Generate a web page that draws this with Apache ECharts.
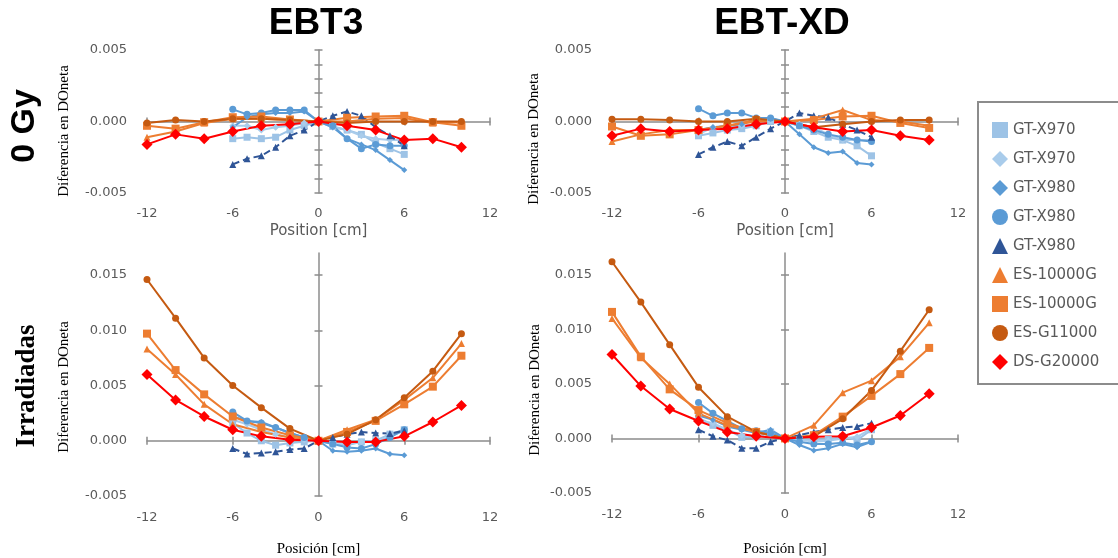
<!DOCTYPE html>
<html>
<head>
<meta charset="utf-8">
<title>Diferencia en DOneta</title>
<script src="https://cdn.jsdelivr.net/npm/echarts@6/dist/echarts.min.js"></script>
<style>html,body{margin:0;padding:0;background:#fff}</style>
</head>
<body>
<div id="main" style="width:1118px;height:558px;"></div>
<script>
// posiciones (cm)
var posGT = [-6, -5, -4, -3, -2, -1, 0, 1, 2, 3, 4, 5, 6];
var posES = [-12, -10, -8, -6, -4, -2, 0, 2, 4, 6, 8, 10];

// EBT3 - 0 Gy
var ebt3_0_gt970sq = [-0.0012, -0.0011, -0.0012, -0.0011, -0.0006, -0.0003, 0, -0.00035, -0.0006, -0.0009, -0.0015, -0.0019, -0.0023];
var ebt3_0_gt970di = [-0.0003, -0.0003, -0.0006, -0.0004, -0.0003, -0.0001, 0, -0.0004, -0.0006, -0.001, -0.0012, -0.0013, -0.0013];
var ebt3_0_gt980di = [-0.0004, 0.0003, 0.0005, 0.0006, 0.0006, 0.0007, 0, -0.0004, -0.0012, -0.0016, -0.002, -0.0027, -0.0034];
var ebt3_0_gt980ci = [0.00085, 0.0005, 0.0006, 0.0008, 0.0008, 0.0008, 0, -0.0003, -0.0012, -0.0019, -0.0016, -0.0017, -0.0017];
var ebt3_0_gt980tr = [-0.003, -0.0026, -0.0024, -0.0018, -0.001, -0.0006, 0, 0.0004, 0.0007, 0.0004, -0.0004, -0.001, -0.0017];
var ebt3_0_es10tr = [-0.0011, -0.0007, -0.0001, 0.0002, 0.0002, 0.0001, 0, 0, 0.0002, 0.00025, -0.0001, -0.00005];
var ebt3_0_es10sq = [-0.0003, -0.0005, -0.00005, 0.0003, 0.00035, 0.00014, 0, 0.00026, 0.00035, 0.0004, -0.00005, -0.0003];
var ebt3_0_esg11 = [-0.0001, 0.0001, 0, 0.0002, 0.0002, 0.0001, 0, -0.0001, 0, 0, 0, 0];
var ebt3_0_dsg20 = [-0.0016, -0.0009, -0.0012, -0.0007, -0.0003, -0.0002, 0, -0.0003, -0.0006, -0.0013, -0.0012, -0.0018];

// EBT-XD - 0 Gy
var xd_0_gt970sq = [-0.001, -0.0008, -0.0006, -0.0005, -0.0003, 0, 0, -0.0003, -0.0007, -0.0011, -0.0013, -0.0017, -0.0024];
var xd_0_gt970di = [-0.0009, -0.0004, -0.0004, -0.0003, -0.0002, 0, 0, -0.0002, -0.0004, -0.0009, -0.0013, -0.0013, -0.0013];
var xd_0_gt980di = [-0.0006, -0.0004, -0.0003, -0.0002, 0.0002, 0.0002, 0, -0.0009, -0.0018, -0.0022, -0.0021, -0.0029, -0.003];
var xd_0_gt980ci = [0.0009, 0.0004, 0.0006, 0.0006, 0.00025, 0.00025, 0, -0.0003, -0.0006, -0.0009, -0.0011, -0.0013, -0.0014];
var xd_0_gt980tr = [-0.0023, -0.0018, -0.0014, -0.0017, -0.0011, -0.0005, 0, 0.0006, 0.0004, 0.0003, -0.0002, -0.0006, -0.0011];
var xd_0_es10tr = [-0.0014, -0.0009, -0.0006, -0.0006, -0.0003, 0, 0, 0.0002, 0.0008, 0.0001, 0, -0.0003];
var xd_0_es10sq = [-0.00035, -0.001, -0.0009, -0.0006, -0.0003, 0.0001, 0, 0.0001, 0.00035, 0.0004, -0.0001, -0.00045];
var xd_0_esg11 = [0.00015, 0.00015, 0.0001, 0, 0, 0.0002, 0, -0.0004, -0.0002, 0, 0.0001, 0.0001];
var xd_0_dsg20 = [-0.001, -0.0005, -0.0007, -0.0006, -0.0005, -0.0002, 0, -0.0004, -0.0007, -0.0006, -0.001, -0.0013];

// EBT3 - Irradiadas
var ebt3_i_gt970sq = [0.0016, 0.0007, 0, -0.0004, -0.0002, -0.0001, 0, -0.0003, -0.0004, -0.0001, 0, 0.0006, 0.001];
var ebt3_i_gt970di = [0.0019, 0.0015, 0.001, 0.0006, 0.0003, 0.0001, 0, -0.0001, -0.0003, -0.0001, -0.0001, 0.0004, 0.0009];
var ebt3_i_gt980di = [0.0022, 0.0018, 0.0017, 0.0012, 0.0007, 0.0003, 0, -0.0009, -0.001, -0.0009, -0.0007, -0.0012, -0.0013];
var ebt3_i_gt980ci = [0.0026, 0.0018, 0.0016, 0.0012, 0.0007, 0.0003, 0, -0.0003, -0.0006, -0.0007, -0.0003, 0.0003, 0.001];
var ebt3_i_gt980tr = [-0.0007, -0.0012, -0.0011, -0.001, -0.0008, -0.0007, 0, 0.0003, 0.0006, 0.0008, 0.0007, 0.00065, 0.0009];
var ebt3_i_es10tr = [0.0083, 0.006, 0.0033, 0.0015, 0.0008, 0.0003, 0, 0.001, 0.0019, 0.0037, 0.0057, 0.0088];
var ebt3_i_es10sq = [0.0097, 0.0064, 0.0042, 0.0022, 0.0012, 0.0005, 0, 0.0008, 0.0018, 0.0033, 0.0049, 0.0077];
var ebt3_i_esg11 = [0.0146, 0.0111, 0.0075, 0.005, 0.003, 0.0011, 0, 0.0006, 0.0019, 0.0039, 0.0063, 0.0097];
var ebt3_i_dsg20 = [0.006, 0.0037, 0.0022, 0.001, 0.0004, 0.0001, 0, -0.0001, -0.0001, 0.0004, 0.0017, 0.0032];

// EBT-XD - Irradiadas
var xd_i_gt970sq = [0.0019, 0.0012, 0.0008, 0.0001, 0.00015, 0.0006, 0, -0.00015, -0.00015, -0.0001, 0.00015, -0.00015, 0.0008];
var xd_i_gt970di = [0.0017, 0.0014, 0.0008, 0.0003, 0.00015, 0.0005, 0, -0.0001, -0.0003, -0.0002, 0, 0.00015, 0.0009];
var xd_i_gt980di = [0.0021, 0.0017, 0.0011, 0.0008, 0.0005, 0.0008, 0, -0.0006, -0.0011, -0.0009, -0.0005, -0.0008, -0.0003];
var xd_i_gt980ci = [0.0033, 0.0023, 0.0016, 0.0009, 0.0007, 0.0005, 0, -0.0003, -0.0005, -0.0005, -0.0004, -0.0006, -0.0003];
var xd_i_gt980tr = [0.0008, 0.0002, -0.00015, -0.0009, -0.0009, -0.0003, 0, 0.0003, 0.0006, 0.0008, 0.001, 0.0011, 0.0014];
var xd_i_es10tr = [0.011, 0.0074, 0.005, 0.0023, 0.0012, 0.0006, 0, 0.0012, 0.0042, 0.0053, 0.0075, 0.0106];
var xd_i_es10sq = [0.0116, 0.0075, 0.0045, 0.0026, 0.0014, 0.0006, 0, 0.0003, 0.002, 0.0039, 0.0059, 0.0083];
var xd_i_esg11 = [0.0162, 0.0125, 0.0086, 0.0047, 0.002, 0.0006, 0, 0.0002, 0.0018, 0.0044, 0.008, 0.0118];
var xd_i_dsg20 = [0.0077, 0.0048, 0.0027, 0.0016, 0.0006, 0.0002, 0, 0.00015, 0.0002, 0.001, 0.0021, 0.0041];

var xTicks = [-12, -6, 0, 6, 12];
var yLabels0 = [-0.005, 0, 0.005];
var yTicks0 = [-0.005, -0.004, -0.003, -0.002, -0.001, 0, 0.001, 0.002, 0.003, 0.004, 0.005];
var yLabelsI = [-0.005, 0, 0.005, 0.01, 0.015];

// escáneres: nombre (#n para distinguir en la leyenda), símbolo, color
var scanners = [
    { name: 'GT-X970', symbol: 'rect', color: '#9DC3E6', size: 7, pos: posGT },
    { name: 'GT-X970#2', symbol: 'diamond', color: '#A9CCEB', size: 7, pos: posGT },
    { name: 'GT-X980', symbol: 'diamond', color: '#5B9BD5', size: 6, pos: posGT },
    { name: 'GT-X980#2', symbol: 'circle', color: '#5B9BD5', size: 7, pos: posGT },
    { name: 'GT-X980#3', symbol: 'triangle', color: '#2F5597', size: 7, pos: posGT, dashed: true },
    { name: 'ES-10000G', symbol: 'triangle', color: '#ED7D31', size: 7, pos: posES },
    { name: 'ES-10000G#2', symbol: 'rect', color: '#ED7D31', size: 8, pos: posES },
    { name: 'ES-G11000', symbol: 'circle', color: '#C55A11', size: 7, pos: posES },
    { name: 'DS-G20000', symbol: 'diamond', color: '#FF0000', size: 11, pos: posES }
];

var panels = [
    [ebt3_0_gt970sq, ebt3_0_gt970di, ebt3_0_gt980di, ebt3_0_gt980ci, ebt3_0_gt980tr, ebt3_0_es10tr, ebt3_0_es10sq, ebt3_0_esg11, ebt3_0_dsg20],
    [xd_0_gt970sq, xd_0_gt970di, xd_0_gt980di, xd_0_gt980ci, xd_0_gt980tr, xd_0_es10tr, xd_0_es10sq, xd_0_esg11, xd_0_dsg20],
    [ebt3_i_gt970sq, ebt3_i_gt970di, ebt3_i_gt980di, ebt3_i_gt980ci, ebt3_i_gt980tr, ebt3_i_es10tr, ebt3_i_es10sq, ebt3_i_esg11, ebt3_i_dsg20],
    [xd_i_gt970sq, xd_i_gt970di, xd_i_gt980di, xd_i_gt980ci, xd_i_gt980tr, xd_i_es10tr, xd_i_es10sq, xd_i_esg11, xd_i_dsg20]
];

var grids = [
    { left: 147, top: 50, width: 343, height: 143 },
    { left: 612, top: 50, width: 346, height: 143 },
    { left: 147, top: 253, width: 343, height: 246 },
    { left: 612, top: 253, width: 346, height: 244 }
];

var axisGray = '#8C8C8C';
var labelGray = '#595959';

var xAxes = [], yAxes = [], series = [];

grids.forEach(function (g, gi) {
    var top = gi < 2;
    var yMin = -0.005, yMax = top ? 0.005 : 0.017;
    var base = gi * 3;
    // eje de etiquetas (abajo)
    xAxes.push({
        gridIndex: gi, type: 'value', min: -12, max: 12, position: 'bottom',
        axisLine: { show: false, onZero: false }, axisTick: { show: false }, splitLine: { show: false },
        axisLabel: { customValues: xTicks, margin: top ? 14 : 15, color: labelGray, fontFamily: 'DejaVu Sans', fontSize: 13 },
        name: top ? 'Position [cm]' : 'Posición [cm]',
        nameLocation: 'middle',
        nameGap: top ? 31 : (gi == 2 ? 46 : 49),
        nameTextStyle: top
            ? { fontFamily: 'DejaVu Sans', fontSize: 15, color: labelGray }
            : { fontFamily: 'Liberation Serif', fontSize: 15, color: '#000' }
    });
    // línea del eje en cero, marcas a ambos lados
    [false, true].forEach(function (inside) {
        xAxes.push({
            gridIndex: gi, type: 'value', min: -12, max: 12, position: 'bottom',
            axisLine: { show: !inside, onZero: true, onZeroAxisIndex: base, lineStyle: { color: axisGray, width: 1.5 } },
            axisTick: { show: true, inside: inside, length: 4, customValues: [-12, -6, 6, 12], lineStyle: { color: axisGray, width: 1.5 } },
            axisLabel: { show: false }, splitLine: { show: false }
        });
    });

    yAxes.push({
        gridIndex: gi, type: 'value', min: yMin, max: yMax, position: 'left',
        axisLine: { show: false, onZero: false }, axisTick: { show: false }, splitLine: { show: false },
        axisLabel: {
            customValues: top ? yLabels0 : yLabelsI, margin: 20, color: labelGray,
            fontFamily: 'DejaVu Sans', fontSize: 13,
            formatter: function (v) { return v.toFixed(3); }
        }
    });
    [false, true].forEach(function (inside) {
        yAxes.push({
            gridIndex: gi, type: 'value', min: yMin, max: yMax, position: 'left',
            axisLine: { show: !inside, onZero: true, onZeroAxisIndex: base, lineStyle: { color: axisGray, width: 1.5 } },
            axisTick: { show: true, inside: inside, length: 4, customValues: top ? yTicks0 : yLabelsI, lineStyle: { color: axisGray, width: 1.5 } },
            axisLabel: { show: false }, splitLine: { show: false }
        });
    });

    scanners.forEach(function (s, si) {
        var vals = panels[gi][si];
        series.push({
            name: s.name,
            type: 'line',
            xAxisIndex: base,
            yAxisIndex: base,
            symbol: s.symbol,
            symbolSize: s.size,
            showAllSymbol: true,
            itemStyle: { color: s.color },
            lineStyle: { color: s.color, width: 2, type: s.dashed ? [7, 4] : 'solid' },
            data: s.pos.map(function (x, i) { return [x, vals[i]]; })
        });
    });
});

var legendIcons = ['rect', 'diamond', 'diamond', 'circle', 'triangle', 'triangle', 'rect', 'circle', 'diamond'];

var chart = echarts.init(document.getElementById('main'));
chart.setOption({
    animation: false,
    backgroundColor: '#fff',
    grid: grids,
    xAxis: xAxes,
    yAxis: yAxes,
    legend: {
        orient: 'vertical',
        left: 978, top: 102,
        padding: [20, 30, 14, 14],
        borderColor: '#8C8C8C', borderWidth: 2,
        itemWidth: 16, itemHeight: 16, itemGap: 13, itemTextGap: 16,
        selectedMode: false,
        textStyle: { fontFamily: 'DejaVu Sans', fontSize: 15, color: labelGray, lineHeight: 16 },
        formatter: function (n) { return n.replace(/#\d$/, ''); },
        data: scanners.map(function (s, i) { return { name: s.name, icon: legendIcons[i] }; })
    },
    graphic: [
        { type: 'text', x: 316, y: 24, style: { text: 'EBT3', font: 'bold 37px "Liberation Sans"', fill: '#000', textAlign: 'center', textVerticalAlign: 'middle' } },
        { type: 'text', x: 782, y: 24, style: { text: 'EBT-XD', font: 'bold 37px "Liberation Sans"', fill: '#000', textAlign: 'center', textVerticalAlign: 'middle' } },
        { type: 'text', x: 25, y: 126, rotation: Math.PI / 2, style: { text: '0 Gy', font: 'bold 34px "Liberation Sans"', fill: '#000', textAlign: 'center', textVerticalAlign: 'middle' } },
        { type: 'text', x: 27, y: 386, rotation: Math.PI / 2, style: { text: 'Irradiadas', font: 'bold 27px "Liberation Serif"', fill: '#000', textAlign: 'center', textVerticalAlign: 'middle' } },
        { type: 'text', x: 64, y: 131, rotation: Math.PI / 2, style: { text: 'Diferencia en DOneta', font: '15px "Liberation Serif"', fill: '#000', textAlign: 'center', textVerticalAlign: 'middle' } },
        { type: 'text', x: 64, y: 387, rotation: Math.PI / 2, style: { text: 'Diferencia en DOneta', font: '15px "Liberation Serif"', fill: '#000', textAlign: 'center', textVerticalAlign: 'middle' } },
        { type: 'text', x: 534, y: 139, rotation: Math.PI / 2, style: { text: 'Diferencia en DOneta', font: '15px "Liberation Serif"', fill: '#000', textAlign: 'center', textVerticalAlign: 'middle' } },
        { type: 'text', x: 535, y: 390, rotation: Math.PI / 2, style: { text: 'Diferencia en DOneta', font: '15px "Liberation Serif"', fill: '#000', textAlign: 'center', textVerticalAlign: 'middle' } }
    ],
    series: series
});
</script>
</body>
</html>
